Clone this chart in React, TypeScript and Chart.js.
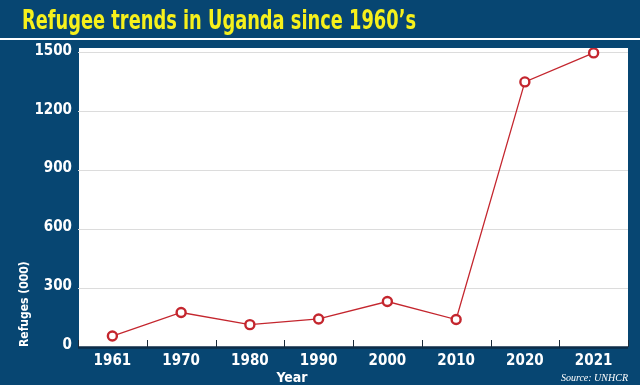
import { useEffect, useRef } from "react";
import { Chart, registerables } from "chart.js";

Chart.register(...registerables);

const years = ["1961", "1970", "1980", "1990", "2000", "2010", "2020", "2021"];
const refugees = [56, 176, 114, 143, 232, 140, 1352, 1500];
const yTicks = [0, 300, 600, 900, 1200, 1500];
const titleText = "Refugee trends in Uganda since 1960’s";
const yTitle = "Refuges (000)";
const xTitle = "Year";
const sourceText = "Source: UNHCR";

const BLUE = "#074672";
const RED = "#c4262e";
const YELLOW = "#f6f01c";
const COND = '"Liberation Sans Narrow", "DejaVu Sans Condensed", Roboto, sans-serif';

const decor = {
  id: "decor",
  beforeDraw(chart: any) {
    const { ctx, width, height, chartArea: ca } = chart;
    ctx.save();
    ctx.fillStyle = BLUE;
    ctx.fillRect(0, 0, width, height);
    ctx.fillStyle = "#ffffff";
    ctx.fillRect(0, 38, width, 2);
    // title
    ctx.font = `bold 27px ${COND}`;
    const w = ctx.measureText(titleText).width;
    const s = 394 / w;
    ctx.translate(22, 29);
    ctx.scale(s, 1);
    ctx.fillStyle = YELLOW;
    ctx.textBaseline = "alphabetic";
    ctx.textAlign = "left";
    ctx.fillText(titleText, 0, 0);
    ctx.restore();
    ctx.save();
    ctx.fillStyle = "#ffffff";
    ctx.fillRect(ca.left + 1, ca.top, ca.right - ca.left - 1, ca.bottom - ca.top);
    ctx.restore();
  },
  afterDraw(chart: any) {
    const { ctx, chartArea: ca } = chart;
    const x = chart.scales.x;
    ctx.save();
    ctx.strokeStyle = "#0c2d48";
    ctx.lineWidth = 2.5;
    ctx.beginPath();
    ctx.moveTo(ca.left, ca.bottom + 0.5);
    ctx.lineTo(ca.right, ca.bottom + 0.5);
    ctx.stroke();
    const n = years.length;
    const c0 = x.getPixelForValue(0);
    const step = x.getPixelForValue(1) - c0;
    ctx.lineWidth = 1;
    ctx.strokeStyle = "#1a2a3a";
    for (let i = 0; i <= n; i++) {
      const px = Math.round(c0 - step / 2 + i * step) + 0.5;
      ctx.beginPath();
      ctx.moveTo(px, ca.bottom);
      ctx.lineTo(px, ca.bottom - 7);
      ctx.stroke();
    }
    ctx.fillStyle = "#ffffff";
    ctx.font = `bold 14px ${COND}`;
    ctx.textAlign = "center";
    ctx.textBaseline = "middle";
    ctx.fillText(xTitle, 292, 378);
    ctx.font = 'italic 10px "Liberation Serif", "DejaVu Serif", serif';
    ctx.textAlign = "right";
    ctx.fillText(sourceText, 628, 378);
    ctx.restore();
  },
};

export default function App() {
  const ref = useRef<HTMLCanvasElement>(null);
  useEffect(() => {
    if (!ref.current) return;
    const chart = new Chart(ref.current, {
      type: "line",
      data: {
        labels: years,
        datasets: [
          {
            data: refugees,
            borderColor: RED,
            borderWidth: 1.3,
            pointRadius: 4.5,
            pointBorderWidth: 2.4,
            pointBackgroundColor: "#ffffff",
            pointBorderColor: RED,
            tension: 0,
          },
        ],
      },
      options: {
        responsive: false,
        animation: false,
        devicePixelRatio: 1,
        layout: { padding: { top: 48, right: 12, left: 0, bottom: 0 } },
        plugins: {
          legend: { display: false },
          tooltip: { enabled: false },
          title: { display: false },
        },
        scales: {
          x: {
            type: "category",
            offset: true,
            grid: { display: false, drawTicks: false },
            border: { display: false },
            ticks: {
              color: "#ffffff",
              font: { family: COND, size: 15, weight: "bold" },
              padding: 5,
              maxRotation: 0,
              autoSkip: false,
            },
            afterFit(scale: any) {
              scale.height = 38;
            },
          },
          y: {
            min: 0,
            max: 1525,
            afterBuildTicks(scale: any) {
              scale.ticks = yTicks.map((v) => ({ value: v }));
            },
            grid: { color: "#dcdcdc", drawTicks: false, lineWidth: 1 },
            border: { display: false },
            ticks: {
              color: "#ffffff",
              font: { family: COND, size: 15, weight: "bold" },
              padding: 6,
              labelOffset: -2,
              callback: (v: any) => String(v),
            },
            title: {
              display: true,
              text: yTitle,
              align: "start",
              color: "#ffffff",
              font: { family: COND, size: 12, weight: "bold" },
              padding: { top: 18, bottom: 0 },
            },
            afterFit(scale: any) {
              scale.width = 78;
            },
          },
        },
      },
      plugins: [decor],
    });
    return () => chart.destroy();
  }, []);
  return (
    <div style={{ position: "fixed", left: 0, top: 0, width: 640, height: 385 }}>
      <canvas ref={ref} width={640} height={385} style={{ display: "block", width: 640, height: 385 }} />
    </div>
  );
}
